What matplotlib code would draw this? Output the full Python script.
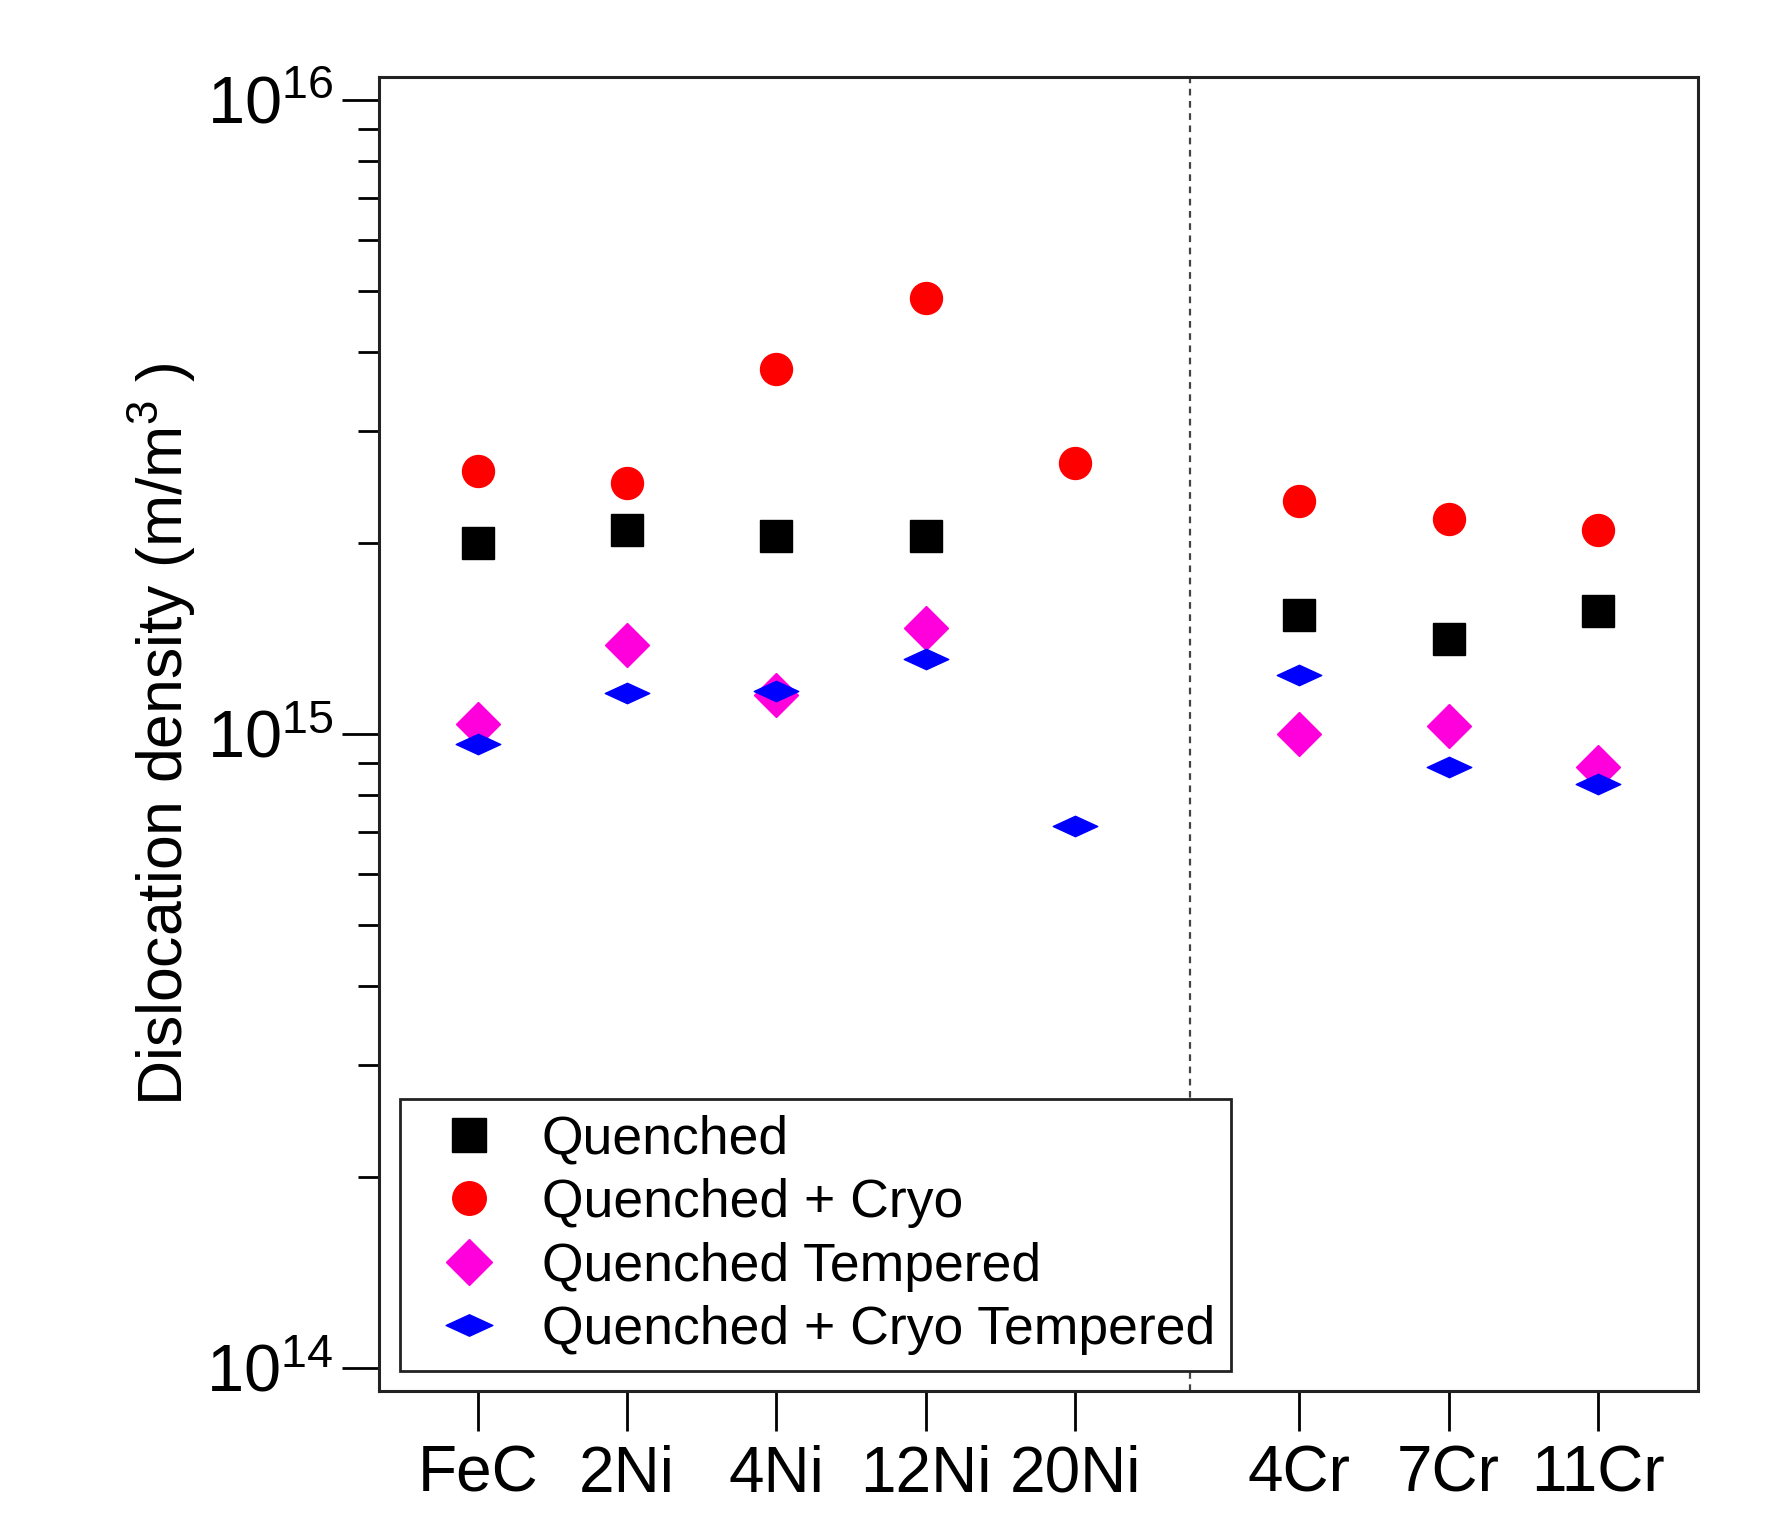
import numpy as np
import matplotlib
matplotlib.use("Agg")
import matplotlib.pyplot as plt
from matplotlib.path import Path
from matplotlib.ticker import FixedLocator, NullFormatter

plt.rcParams['font.family'] = ['Liberation Sans', 'DejaVu Sans']
plt.rcParams['mathtext.fontset'] = 'custom'
plt.rcParams['mathtext.rm'] = 'Liberation Sans'

# samples and their positions along x (Ni group, then Cr group)
samples = ['FeC', '2Ni', '4Ni', '12Ni', '20Ni', '4Cr', '7Cr', '11Cr']
xpos = [0, 1, 2, 3, 4, 5.5, 6.5, 7.5]

# dislocation density values (m/m^3), nan = not measured
quenched = [2.00e15, 2.10e15, 2.05e15, 2.05e15, np.nan, 1.54e15, 1.41e15, 1.56e15]
quenched_cryo = [2.60e15, 2.49e15, 3.76e15, 4.86e15, 2.67e15, 2.33e15, 2.18e15, 2.10e15]
quenched_temp = [1.035e15, 1.38e15, 1.15e15, 1.47e15, np.nan, 1.00e15, 1.03e15, 0.886e15]
cryo_temp = [0.962e15, 1.16e15, 1.17e15, 1.31e15, 0.715e15, 1.24e15, 0.886e15, 0.832e15]

series_labels = ['Quenched', 'Quenched + Cryo', 'Quenched Tempered',
                 'Quenched + Cryo Tempered']

# flat diamond for the cryo tempered series
flat_diamond = Path([(-1, 0), (0, 0.46), (1, 0), (0, -0.46), (-1, 0)],
                    [Path.MOVETO, Path.LINETO, Path.LINETO, Path.LINETO, Path.CLOSEPOLY])

fig = plt.figure(figsize=(17.8, 15.4), dpi=100)
ax = fig.add_axes([0.213, 0.097, 0.741, 0.853])

ax.axvline(4.77, color='#444444', lw=1.6, ls=(0, (3, 2.5)), zorder=1)

ax.plot(xpos, quenched, ls='none', marker='s', ms=23, color='black',
        mec='black', label=series_labels[0], zorder=3)
ax.plot(xpos, quenched_cryo, ls='none', marker='o', ms=23, color='#ff0000',
        mec='#ff0000', label=series_labels[1], zorder=3)
ax.plot(xpos, quenched_temp, ls='none', marker='D', ms=22, color='#ff00dd',
        mec='#ff00dd', label=series_labels[2], zorder=3)
ax.plot(xpos, cryo_temp, ls='none', marker=flat_diamond, ms=32, color='#0000ff',
        mec='#0000ff', label=series_labels[3], zorder=4)

ax.set_yscale('log')
ax.set_ylim(10 ** 13.964, 10 ** 16.036)
ax.set_xlim(-0.66, 8.17)

majors = [1e14, 1e15, 1e16]
ax.yaxis.set_major_locator(FixedLocator(majors))
ax.set_yticklabels([r'$\mathregular{10^{14}}$', r'$\mathregular{10^{15}}$',
                    r'$\mathregular{10^{16}}$'])
minors = [m * 10 ** e for e in (14, 15) for m in range(2, 10)]
ax.yaxis.set_minor_locator(FixedLocator(minors))
ax.yaxis.set_minor_formatter(NullFormatter())

ax.set_xticks(xpos)
ax.set_xticklabels(samples)

ax.tick_params(axis='y', which='major', direction='out', length=27, width=2,
               labelsize=48, pad=6)
ax.tick_params(axis='y', which='minor', direction='out', length=15, width=2)
ax.tick_params(axis='x', which='major', direction='out', length=29, width=2,
               labelsize=46, pad=10)
for s in ax.spines.values():
    s.set_linewidth(2.2)
    s.set_color('#222222')

ax.set_ylabel(r'Dislocation density (m/m$\mathregular{^{3}}$ )', fontsize=45, labelpad=6)

leg = ax.legend(loc='lower left', bbox_to_anchor=(0.016, 0.015), borderaxespad=0,
                fontsize=38.5, frameon=True, fancybox=False, handletextpad=0.38,
                labelspacing=0.25, borderpad=0.3, handlelength=1.97,
                markerscale=1.05)
leg.get_frame().set_edgecolor('#222222')
leg.get_frame().set_linewidth(2)
leg.get_frame().set_alpha(1)

fig.savefig('out.png', dpi=100)
